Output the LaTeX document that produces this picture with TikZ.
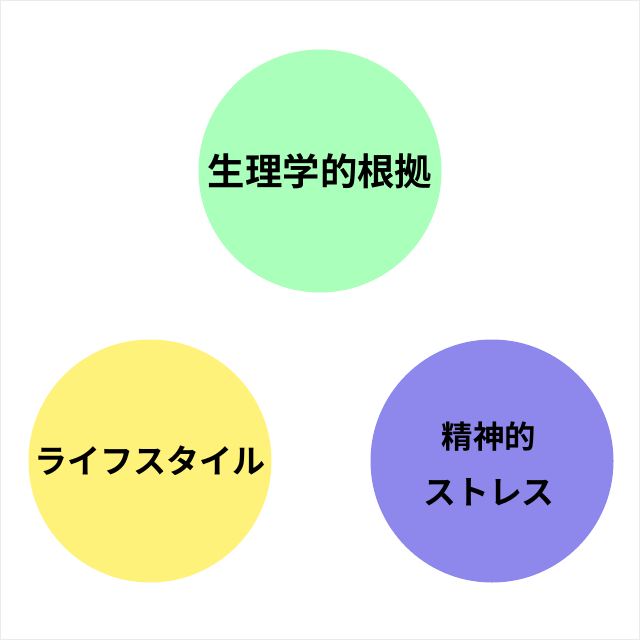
\documentclass[tikz,border=0pt]{standalone}
\usepackage{fontspec}
\newfontfamily\jpfont{Noto Sans CJK JP}[BoldFont={* Bold}]
\definecolor{cgreen}{RGB}{170,255,186}
\definecolor{cyellow}{RGB}{255,242,122}
\definecolor{cpurple}{RGB}{142,136,236}
\definecolor{frame}{RGB}{235,235,235}
\tikzset{
  blob/.style={circle, minimum size=243bp, inner sep=0pt, draw=none},
  lbl/.style={font=\jpfont\bfseries, text=black, align=center}
}
\begin{document}
\begin{tikzpicture}[x=1bp,y=-1bp]
\useasboundingbox (0,0) rectangle (640,640);
\draw[frame, line width=1bp] (0.5,0.5) rectangle (639.5,639.5);
\node[blob, fill=cgreen] (phys) at (320,171) {};
\node[blob, fill=cyellow] (life) at (150,461) {};
\node[blob, fill=cpurple] (stress) at (492,461) {};
\node[lbl, font=\jpfont\bfseries\fontsize{37.5}{40}\selectfont] (t1) at (phys.center) {生理学的根拠};
\node[lbl, font=\jpfont\bfseries\fontsize{33.2}{36}\selectfont] (t2) at (life.center) {ライフスタイル};
\node[lbl, font=\jpfont\bfseries\fontsize{31.5}{36}\selectfont] (t3) at (489,437) {精神的};
\node[lbl, font=\jpfont\bfseries\fontsize{33}{36}\selectfont] (t4) at (489,492) {ストレス};
\end{tikzpicture}
\end{document}
